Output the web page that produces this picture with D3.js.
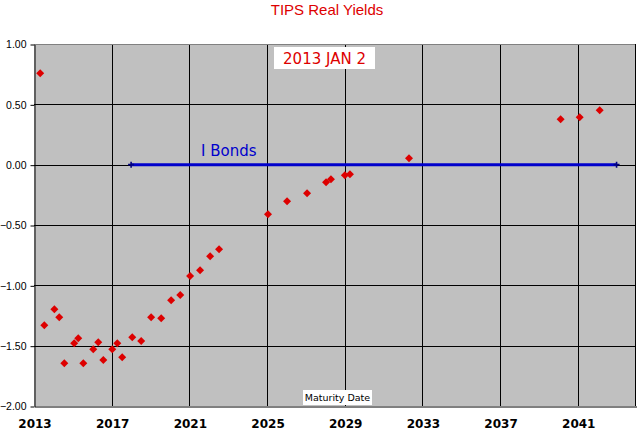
<!DOCTYPE html>
<html><head><meta charset="utf-8">
<script src="https://cdn.jsdelivr.net/npm/d3@7"></script>
<style>body{margin:0;background:#fff}svg{display:block}</style>
</head><body><svg id="c" width="637" height="429"></svg>
<script>
const tipsYears = [2013.32,2013.53,2014.05,2014.30,2014.56,2015.07,2015.28,2015.54,2016.05,2016.31,2016.57,2017.03,2017.29,2017.54,2018.06,2018.52,2019.03,2019.55,2020.06,2020.53,2021.04,2021.55,2022.07,2022.53,2025.05,2026.03,2027.06,2028.04,2028.29,2029.01,2029.27,2032.31,2040.12,2041.10,2042.13];
const tipsYields = [0.757,-1.331,-1.199,-1.265,-1.646,-1.48,-1.439,-1.646,-1.53,-1.472,-1.619,-1.53,-1.48,-1.596,-1.43,-1.461,-1.265,-1.273,-1.124,-1.08,-0.923,-0.876,-0.759,-0.701,-0.411,-0.304,-0.237,-0.146,-0.121,-0.088,-0.080,0.053,0.376,0.393,0.451];
const iBondYears = [2018, 2043];
const iBondYields = [0, 0];
const xTicks = [2013,2017,2021,2025,2029,2033,2037,2041];
const yTicks = [-2,-1.5,-1,-0.5,0,0.5,1];
const title = "TIPS Real Yields";
const dateLabel = "2013 JAN 2";
const seriesLabel = "I Bonds";
const xLabel = "Maturity Date";

const svg = d3.select("#c");
const L=34, R=636, T=44, B=406;
const x = d3.scaleLinear().domain([2013,2044]).range([L,R]);
const y = d3.scaleLinear().domain([-2,1]).range([B,T]);

svg.append("rect").attr("x",L).attr("y",T).attr("width",R-L).attr("height",B-T).attr("fill","#c0c0c0");

// gridlines
svg.append("g").selectAll("line").data(yTicks.filter(v=>v>-2&&v<1)).join("line")
  .attr("x1",L).attr("x2",R).attr("y1",d=>Math.round(y(d))+0.5).attr("y2",d=>Math.round(y(d))+0.5)
  .attr("stroke","#000").attr("stroke-width",1);
svg.append("g").selectAll("line").data(xTicks.filter(v=>v>2013)).join("line")
  .attr("y1",T).attr("y2",B).attr("x1",d=>Math.round(x(d))+0.5).attr("x2",d=>Math.round(x(d))+0.5)
  .attr("stroke","#000").attr("stroke-width",1);
// borders
svg.append("line").attr("x1",L).attr("x2",R).attr("y1",T+0.5).attr("y2",T+0.5).attr("stroke","#808080");
svg.append("line").attr("x1",R-0.5).attr("x2",R-0.5).attr("y1",T).attr("y2",B).attr("stroke","#000");

// axes
const yAxis = d3.axisLeft(y).tickValues(yTicks).tickFormat(d3.format(".2f")).tickSize(4).tickSizeOuter(0);
const gy = svg.append("g").attr("transform",`translate(${L+0.5},0.5)`).call(yAxis);
gy.select(".domain").attr("stroke","#000");
gy.selectAll("text").attr("font-family","Liberation Sans, Arial, sans-serif").attr("font-size","10.5px").attr("fill","#000").attr("x",-8);
gy.selectAll(".tick line").attr("stroke","#000");

const xAxis = d3.axisBottom(x).tickValues(xTicks).tickFormat(d3.format("d")).tickSize(0).tickSizeOuter(0);
const gx = svg.append("g").attr("transform",`translate(0.5,${B+0.5})`).call(xAxis);
gx.select(".domain").attr("stroke","#000");
gx.selectAll("text").attr("font-family","DejaVu Sans, sans-serif").attr("font-weight","bold").attr("font-size","12px").attr("fill","#000").attr("dy",0).attr("y",21);

// I Bonds line
const line = d3.line().x(d=>x(d[0])).y(d=>y(d[1]));
const ib = iBondYears.map((v,i)=>[v,iBondYields[i]]);
svg.append("path").datum(ib).attr("d",line).attr("stroke","#0000cc").attr("stroke-width",3).attr("fill","none");
svg.append("g").selectAll("path").data(ib).join("path")
  .attr("transform",d=>`translate(${x(d[0])},${y(d[1])})`)
  .attr("d","M-3,-0.8H-0.8V-3H0.8V-0.8H3V0.8H0.8V3H-0.8V0.8H-3Z").attr("fill","#000080");

// TIPS points
const diamond = "M0,-4L4,0L0,4L-4,0Z";
svg.append("g").selectAll("path").data(tipsYears.map((v,i)=>[v,tipsYields[i]])).join("path")
  .attr("transform",d=>`translate(${x(d[0])},${y(d[1])})`)
  .attr("d",diamond).attr("fill","#dd0000");

// title
svg.append("text").attr("x",327).attr("y",15).attr("text-anchor","middle")
  .attr("font-family","Liberation Sans, Arial, sans-serif").attr("font-size","15px").attr("fill","#dd0000").text(title);

// date box
svg.append("rect").attr("x",274).attr("y",47).attr("width",101).attr("height",22).attr("fill","#fff");
svg.append("text").attr("x",324.5).attr("y",64).attr("text-anchor","middle")
  .attr("font-family","DejaVu Sans, sans-serif").attr("font-size","15px").attr("fill","#dd0000").text(dateLabel);

// I Bonds label
svg.append("text").attr("x",201).attr("y",156)
  .attr("font-family","DejaVu Sans, sans-serif").attr("font-size","15px").attr("fill","#0000cc").text(seriesLabel);

// x label box
svg.append("rect").attr("x",303).attr("y",390).attr("width",69).attr("height",15).attr("fill","#fff");
svg.append("text").attr("x",337.5).attr("y",401).attr("text-anchor","middle")
  .attr("font-family","DejaVu Sans, sans-serif").attr("font-size","9.5px").attr("fill","#000").text(xLabel);
</script></body></html>
